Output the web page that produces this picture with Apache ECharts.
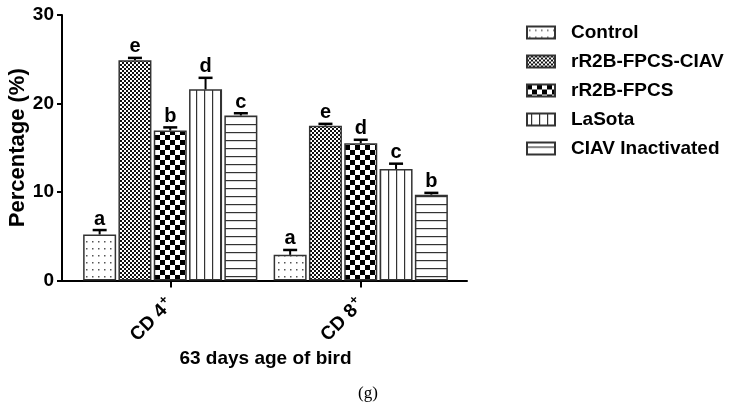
<!DOCTYPE html>
<html><head><meta charset="utf-8">
<script src="https://cdn.jsdelivr.net/npm/echarts@6/dist/echarts.min.js"></script>
<style>html,body{margin:0;padding:0;background:#fff}#c{width:734px;height:406px}</style>
</head><body><div id="c"></div>
<script>
const categories = ['CD 4', 'CD 8'];
const seriesNames = ['Control', 'rR2B-FPCS-CIAV', 'rR2B-FPCS', 'LaSota', 'CIAV Inactivated'];
const controlVals = [5.2, 2.9];
const ciavVals = [24.9, 17.5];
const fpcsVals = [16.95, 15.5];
const lasotaVals = [21.6, 12.6];
const inactVals = [18.65, 9.7];
const controlErr = [5.7, 3.45];
const ciavErr = [25.15, 17.7];
const fpcsErr = [17.3, 15.9];
const lasotaErr = [22.9, 13.2];
const inactErr = [18.9, 9.9];
const controlLetters = ['a', 'a'];
const ciavLetters = ['e', 'e'];
const fpcsLetters = ['b', 'd'];
const lasotaLetters = ['d', 'c'];
const inactLetters = ['c', 'b'];
const yTicks = [0, 10, 20, 30];

const values = [controlVals, ciavVals, fpcsVals, lasotaVals, inactVals];
const errs = [controlErr, ciavErr, fpcsErr, lasotaErr, inactErr];
const letters = [controlLetters, ciavLetters, fpcsLetters, lasotaLetters, inactLetters];

function pat(w, h, draw) {
  const c = document.createElement('canvas');
  c.width = w; c.height = h;
  const g = c.getContext('2d');
  g.fillStyle = '#fff'; g.fillRect(0, 0, w, h);
  draw(g);
  return { image: c, repeat: 'repeat' };
}
const patterns = [
  pat(6, 7, g => { g.fillStyle = '#555'; g.fillRect(2, 3, 1.5, 1.5); }),
  pat(4, 4, g => { g.fillStyle = '#111'; g.fillRect(0, 0, 2, 2); g.fillRect(2, 2, 2, 2); }),
  pat(10, 10, g => { g.fillStyle = '#000'; g.fillRect(0, 0, 5, 5); g.fillRect(5, 5, 5, 5); }),
  pat(8, 8, g => { g.fillStyle = '#333'; g.fillRect(4, 0, 1.2, 8); }),
  pat(8, 8, g => { g.fillStyle = '#333'; g.fillRect(0, 4, 8, 1.2); })
];

const BW = 33, STEP = 35.3;
const FONT = 'Liberation Sans, Arial, sans-serif';

const series = seriesNames.map((n, i) => ({
  name: n, type: 'bar', data: values[i], barWidth: BW, barGap: '7%',
  itemStyle: { color: patterns[i], borderColor: '#333', borderWidth: 1.5 },
  emphasis: { disabled: true }, z: 2
}));

const errData = [];
for (let s = 0; s < 5; s++) for (let c = 0; c < 2; c++) errData.push([c, errs[s][c], s, values[s][c]]);

series.push({
  type: 'custom', z: 5, data: errData, silent: true,
  renderItem: function (params, api) {
    const c = api.value(0), e = api.value(1), s = api.value(2), v = api.value(3);
    const p0 = api.coord([c, v]), p1 = api.coord([c, e]);
    const x = p0[0] + (s - 2) * STEP;
    return {
      type: 'group', children: [
        { type: 'line', shape: { x1: x, y1: p0[1], x2: x, y2: p1[1] }, style: { stroke: '#000', lineWidth: 2 } },
        { type: 'line', shape: { x1: x - 7, y1: p1[1], x2: x + 7, y2: p1[1] }, style: { stroke: '#000', lineWidth: 2.5 } },
        { type: 'text', style: { text: letters[s][c], x: x, y: p1[1] - 1, align: 'center', verticalAlign: 'bottom', font: 'bold 20px ' + FONT, fill: '#000' } }
      ]
    };
  }
});

series.push({ type: 'line', xAxisIndex: 1, yAxisIndex: 1, data: [] });

const chart = echarts.init(document.getElementById('c'));
chart.setOption({
  animation: false,
  textStyle: { fontFamily: FONT },
  grid: [
    { left: 75, right: 278, top: 15, bottom: 125.5, outerBoundsMode: 'none', containLabel: false },
    { left: 62, right: 267, top: 15, bottom: 125.5, outerBoundsMode: 'none', containLabel: false }
  ],
  legend: {
    data: seriesNames, orient: 'vertical', left: 526, top: 23, padding: 0,
    itemWidth: 28, itemHeight: 12, itemGap: 10, icon: 'rect',
    textStyle: { fontSize: 19, fontWeight: 'bold', color: '#000', fontFamily: FONT, padding: [0, 0, 0, 11] },
    selectedMode: false
  },
  xAxis: [{
    type: 'category', data: categories, gridIndex: 0,
    axisLine: { show: false },
    axisTick: { show: true, alignWithLabel: true, length: 7, lineStyle: { color: '#000', width: 2 } },
    axisLabel: {
      rotate: 45, margin: 21, color: '#000', fontSize: 19, fontWeight: 'bold', fontFamily: FONT,
      formatter: v => v + '{s|+}',
      rich: { s: { fontSize: 13, fontWeight: 'bold', fontFamily: FONT, color: '#000', padding: [0, 0, 11, 1] } }
    },
    name: '63 days age of bird', nameLocation: 'middle', nameGap: 69, nameMoveOverlap: false,
    nameTextStyle: { fontSize: 19, fontWeight: 'bold', color: '#000', fontFamily: FONT }
  }, {
    type: 'value', gridIndex: 1, min: 0, max: 1,
    axisLine: { show: true, lineStyle: { color: '#000', width: 2 } },
    axisTick: { show: false }, axisLabel: { show: false }, splitLine: { show: false }
  }],
  yAxis: [{
    type: 'value', min: 0, max: 30, interval: 10, gridIndex: 0, offset: 13,
    axisLine: { show: true, lineStyle: { color: '#000', width: 2 } },
    axisTick: { show: true, length: 5, lineStyle: { color: '#000', width: 2 } },
    axisLabel: { color: '#000', fontSize: 19, fontWeight: 'bold', fontFamily: FONT, margin: 8,
      customValues: yTicks },
    splitLine: { show: false },
    name: 'Percentage (%)', nameLocation: 'middle', nameGap: 33, nameRotate: 90, nameMoveOverlap: false,
    nameTextStyle: { fontSize: 22, fontWeight: 'bold', color: '#000', fontFamily: FONT }
  }, {
    type: 'value', gridIndex: 1, show: false, min: 0, max: 30
  }],
  graphic: [{
    type: 'text', left: 358, top: 385,
    style: { text: '(g)', font: '17px Liberation Serif, Times New Roman, serif', fill: '#000' }
  }],
  series: series
});
</script></body></html>
